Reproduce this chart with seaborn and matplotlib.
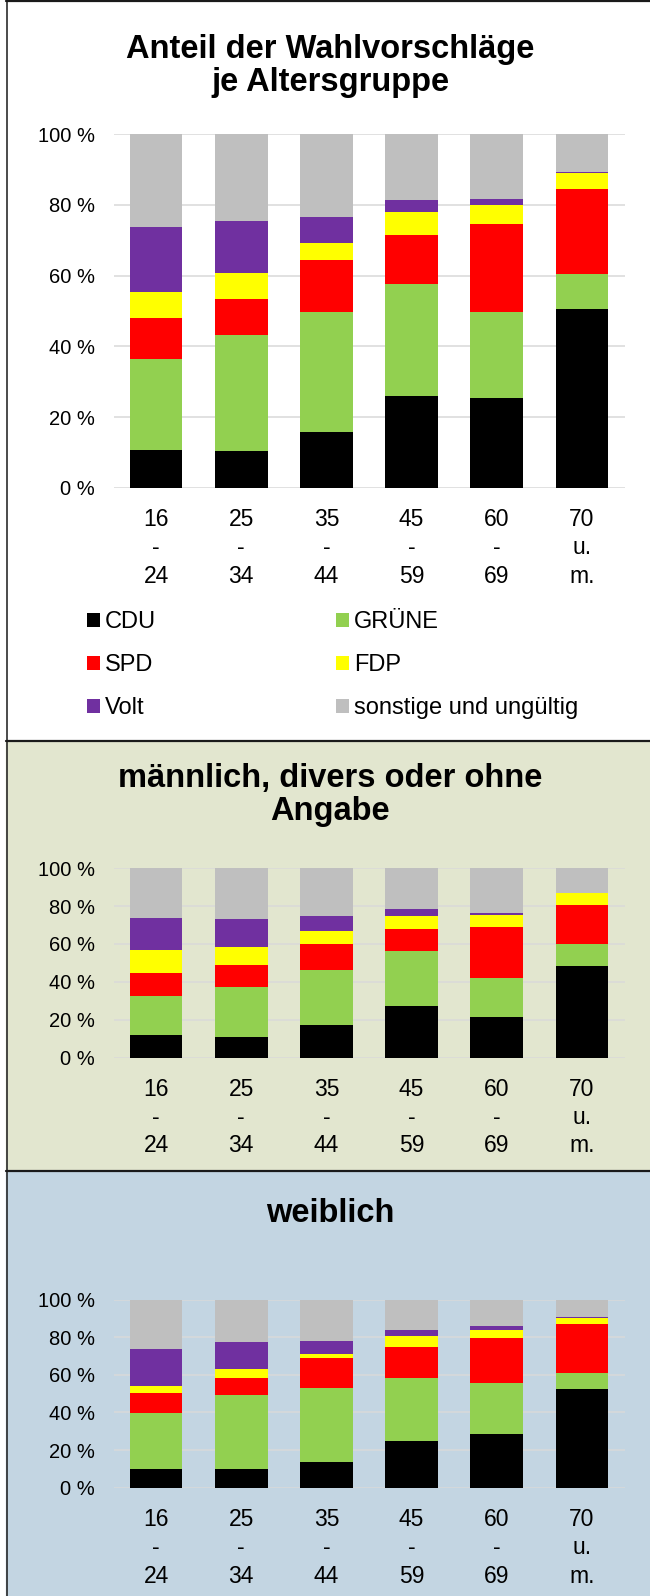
import pandas as pd
import matplotlib
matplotlib.use("Agg")
import matplotlib.pyplot as plt
from matplotlib.patches import Rectangle, Patch
from matplotlib.lines import Line2D
import seaborn as sns

# Kategorien
altersgruppen = ["16\n-\n24", "25\n-\n34", "35\n-\n44", "45\n-\n59", "60\n-\n69", "70\nu.\nm."]
parteien = ["CDU", "GRÜNE", "SPD", "FDP", "Volt", "sonstige und ungültig"]
farben = ["#000000", "#92D050", "#FF0000", "#FFFF00", "#7030A0", "#BFBFBF"]

# Anteile in % - alle Wählenden
gesamt_cdu = [10.8, 10.5, 15.7, 25.9, 25.5, 50.6]
gesamt_gruene = [25.7, 32.7, 34.0, 31.6, 24.1, 9.9]
gesamt_spd = [11.5, 10.2, 14.7, 14.1, 25.1, 24.0]
gesamt_fdp = [7.4, 7.4, 4.8, 6.5, 5.3, 4.5]
gesamt_volt = [18.4, 14.7, 7.4, 3.4, 1.7, 0.2]
gesamt_sonst = [26.2, 24.5, 23.4, 18.5, 18.3, 10.8]

# männlich, divers oder ohne Angabe
maenn_cdu = [11.8, 10.8, 17.3, 27.2, 21.3, 48.1]
maenn_gruene = [20.5, 26.6, 29.1, 29.2, 20.8, 11.9]
maenn_spd = [12.5, 11.5, 13.4, 11.3, 26.7, 20.8]
maenn_fdp = [12.2, 9.7, 6.9, 7.1, 6.5, 6.3]
maenn_volt = [16.7, 14.6, 8.3, 3.9, 1.1, 0.1]
maenn_sonst = [26.3, 26.8, 25.0, 21.3, 23.6, 12.8]

# weiblich
weibl_cdu = [9.7, 9.9, 13.6, 24.8, 28.5, 52.3]
weibl_gruene = [29.9, 39.5, 39.4, 33.3, 27.1, 8.4]
weibl_spd = [10.7, 8.8, 15.8, 16.9, 24.0, 26.4]
weibl_fdp = [3.9, 4.8, 2.5, 5.6, 4.4, 3.2]
weibl_volt = [19.5, 14.6, 6.8, 3.0, 1.9, 0.5]
weibl_sonst = [26.3, 22.4, 21.9, 16.4, 14.1, 9.2]

sns.set_theme(style="white")
plt.rcParams["font.family"] = ["Liberation Sans", "DejaVu Sans"]
plt.rcParams["text.color"] = "black"

W, H = 650, 1596
fig = plt.figure(figsize=(W / 100, H / 100), dpi=100)
fig.patch.set_facecolor("white")


def long_table(reihen):
    rows = []
    for partei, reihe in zip(parteien, reihen):
        for i, v in enumerate(reihe):
            rows.append({"pos": i, "partei": partei, "anteil": v})
    return pd.DataFrame(rows)


def zeichne(ax, reihen):
    df = long_table(reihen)
    # seaborn stapelt die erste hue-Stufe oben -> umgekehrte Reihenfolge
    sns.histplot(data=df, x="pos", weights="anteil", hue="partei",
                 hue_order=parteien[::-1], palette=dict(zip(parteien, farben)),
                 multiple="stack", discrete=True, shrink=0.62, alpha=1,
                 linewidth=0, legend=False, ax=ax)
    ax.set_xlim(-0.5, 5.5)
    ax.set_ylim(0, 100)
    ax.set_yticks(range(0, 101, 20))
    ax.set_yticklabels([f"{t} %" for t in range(0, 101, 20)])
    ax.set_xticks(range(len(altersgruppen)))
    ax.set_xticklabels(altersgruppen, linespacing=1.3)
    ax.tick_params(length=0, colors="black")
    ax.tick_params(axis="y", labelsize=14.5, pad=13.5)
    ax.tick_params(axis="x", labelsize=16.5, pad=14.5)
    ax.grid(axis="y", color="#D9D9D9", lw=1.1)
    ax.grid(axis="x", visible=False)
    ax.set_axisbelow(True)
    sns.despine(ax=ax, left=True, bottom=True)
    ax.set_xlabel("")
    ax.set_ylabel("")
    ax.set_facecolor("none")


def fy(px):
    return 1 - px / H


# Hintergründe der Felder
fig.patches.append(Rectangle((6 / W, fy(1171)), 1, fy(741) - fy(1171),
                             transform=fig.transFigure, color="#E2E6CF", zorder=-2))
fig.patches.append(Rectangle((6 / W, 0), 1, fy(1171),
                             transform=fig.transFigure, color="#C3D5E2", zorder=-2))

# Rahmenlinien
for y in [1, 741, 1171]:
    fig.add_artist(Line2D([6 / W, 1], [fy(y), fy(y)], transform=fig.transFigure,
                          color="#1A1A1A", lw=1.6))
fig.add_artist(Line2D([6.5 / W, 6.5 / W], [0, 1], transform=fig.transFigure,
                      color="#1A1A1A", lw=1.1))

x0, xw = 113.5 / W, 511 / W
ax1 = fig.add_axes([x0, fy(487.7), xw, (487.7 - 134.3) / H])
ax2 = fig.add_axes([x0, fy(1057.5), xw, (1057.5 - 868.3) / H])
ax3 = fig.add_axes([x0, fy(1487.7), xw, (1487.7 - 1299.5) / H])

zeichne(ax1, [gesamt_cdu, gesamt_gruene, gesamt_spd, gesamt_fdp, gesamt_volt, gesamt_sonst])
zeichne(ax2, [maenn_cdu, maenn_gruene, maenn_spd, maenn_fdp, maenn_volt, maenn_sonst])
zeichne(ax3, [weibl_cdu, weibl_gruene, weibl_spd, weibl_fdp, weibl_volt, weibl_sonst])

titel = dict(ha="center", va="center", fontsize=23.5, fontweight="bold",
             linespacing=1.12, color="black")
fig.text(0.508, fy(66), "Anteil der Wahlvorschläge\nje Altersgruppe", **titel)
fig.text(0.508, fy(795), "männlich, divers oder ohne\nAngabe", **titel)
fig.text(0.508, fy(1213), "weiblich", **titel)

# Legende (spaltenweise gefüllt)
reihenfolge = [0, 2, 4, 1, 3, 5]
handles = [Patch(facecolor=farben[i], edgecolor="none") for i in reihenfolge]
labels = [parteien[i] for i in reihenfolge]
fig.legend(handles, labels, ncol=2, loc="upper left", bbox_to_anchor=(87 / W, fy(611)),
           frameon=False, fontsize=17, handlelength=0.55, handleheight=0.55,
           handletextpad=0.22, columnspacing=7.6, labelspacing=0.89,
           borderaxespad=0, borderpad=0)

fig.savefig("out.png", dpi=100)
